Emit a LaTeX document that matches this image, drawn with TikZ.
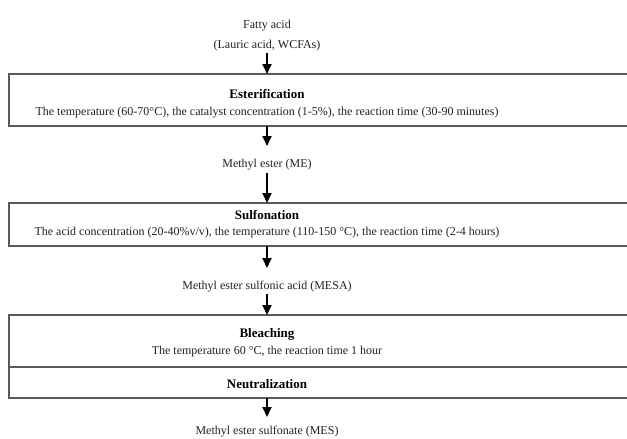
\documentclass[tikz,border=0pt]{standalone}
\usepackage{fontspec}
\setmainfont{Liberation Serif}
\usetikzlibrary{arrows.meta}
\definecolor{boxgray}{HTML}{5A5A5A}
\definecolor{txtgray}{HTML}{222222}
\begin{document}
\begin{tikzpicture}[x=1pt,y=-1pt,
  lbl/.style={inner sep=0pt, font=\fontsize{12}{20}\selectfont, text=txtgray, align=center},
  hdr/.style={inner sep=0pt, font=\fontsize{13}{15}\selectfont\bfseries, text=black},
  boxline/.style={draw=boxgray, line width=1.4pt},
  flow/.style={line width=1.9pt, -{Triangle[width=9pt,length=10pt]}}]
\useasboundingbox[fill=white] (0,0) rectangle (627,439);
% texts
\node[lbl] (fatty) at (267,36) {Fatty acid\\(Lauric acid, WCFAs)};
\node[hdr] (esth) at (267,94) {Esterification};
\node[lbl] (estp) at (267,113) {The temperature (60-70°C), the catalyst concentration (1-5\%), the reaction time (30-90 minutes)};
\node[lbl] (me) at (267,165) {Methyl ester (ME)};
\node[hdr] (sulh) at (267,215) {Sulfonation};
\node[lbl] (sulp) at (267,233) {The acid concentration (20-40\%v/v), the temperature (110-150 °C), the reaction time (2-4 hours)};
\node[lbl] (mesa) at (267,287) {Methyl ester sulfonic acid (MESA)};
\node[hdr] (bleh) at (267,334) {Bleaching};
\node[lbl] (blep) at (267,352) {The temperature 60 °C, the reaction time 1 hour};
\node[hdr] (neuh) at (267,384) {Neutralization};
\node[lbl] (mes) at (267,431.5) {Methyl ester sulfonate (MES)};
% boxes (open to the right edge)
\draw[boxline] (628,74) -| (9,126) -- (628,126);
\draw[boxline] (628,203) -| (9,246) -- (628,246);
\draw[boxline] (628,315) -| (9,398) -- (628,398);
\draw[boxline] (9,367) -- (628,367);
% box anchor points
\coordinate (estT) at (267,74);
\coordinate (estB) at (267,126);
\coordinate (sulT) at (267,203);
\coordinate (sulB) at (267,246);
\coordinate (bleT) at (267,315);
\coordinate (neuB) at (267,398);
% arrows
\draw[flow] (267,53) -- (estT);
\draw[flow] (estB) -- (267,146);
\draw[flow] (267,173) -- (sulT);
\draw[flow] (sulB) -- (267,268);
\draw[flow] (267,294) -- (bleT);
\draw[flow] (neuB) -- (267,417);
\end{tikzpicture}
\end{document}
